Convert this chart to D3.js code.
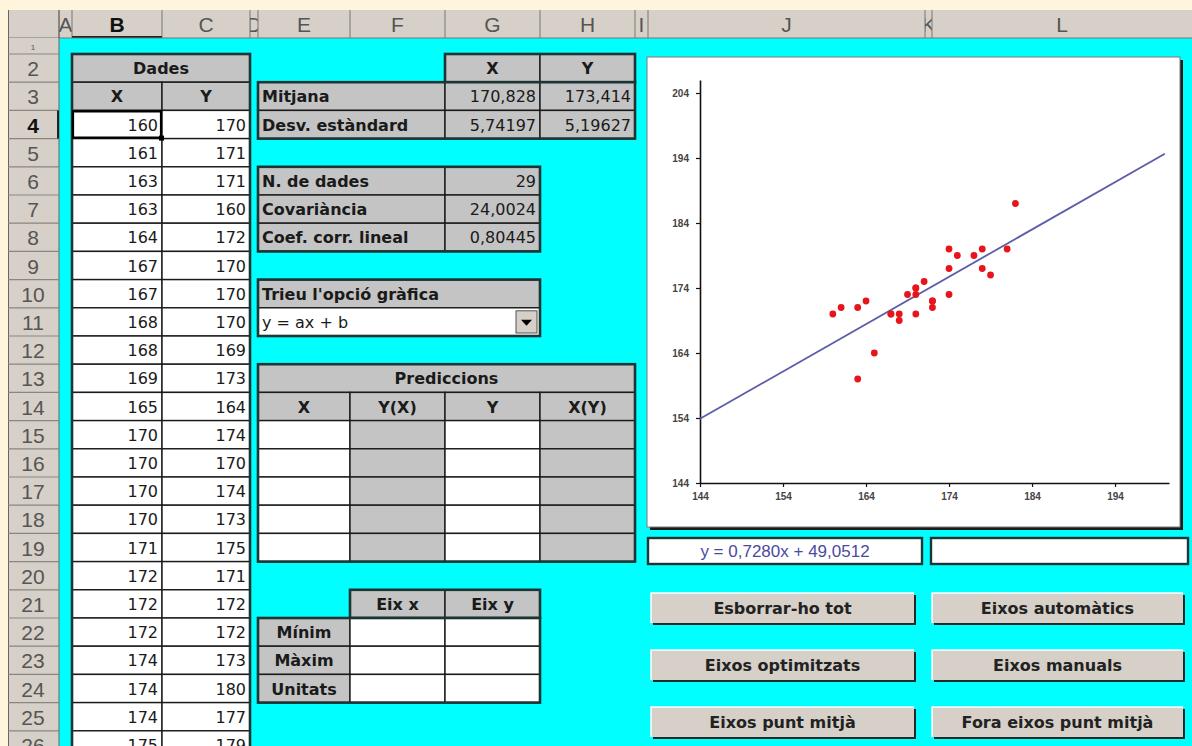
<!DOCTYPE html>
<html>
<head>
<meta charset="utf-8">
<script src="https://cdn.jsdelivr.net/npm/d3@7"></script>
<style>
body { margin: 0; background: #fff5dc; }
text { font-family: "DejaVu Sans", sans-serif; }
</style>
</head>
<body>
<div id="sheet"></div>
<script>
// data
const colLetters = ["A","B","C","D","E","F","G","H","I","J","K","L"];
const rowNumbers = d3.range(1, 27);
const dataX = [160,161,163,163,164,167,167,168,168,169,165,170,170,170,170,171,172,172,172,174,174,174,175,177,178,178,179,181,182];
const dataY = [170,171,171,160,172,170,170,170,169,173,164,174,170,174,173,175,171,172,172,173,180,177,179,179,177,180,176,180,187];
const statHead = ["X","Y"];
const statRows = ["Mitjana","Desv. estàndard"];
const statVals = [["170,828","173,414"],["5,74197","5,19627"]];
const infoLabels = ["N. de dades","Covariància","Coef. corr. lineal"];
const infoVals = ["29","24,0024","0,80445"];
const optionTitle = "Trieu l'opció gràfica";
const optionText = "y = ax + b";
const predTitle = "Prediccions";
const predHead = ["X","Y(X)","Y","X(Y)"];
const axisHead = ["Eix x","Eix y"];
const axisRows = ["Mínim","Màxim","Unitats"];
const buttonLabels = ["Esborrar-ho tot","Eixos automàtics","Eixos optimitzats","Eixos manuals","Eixos punt mitjà","Fora eixos punt mitjà"];
const slope = 0.7280, intercept = 49.0512;
const equationText = "y = 0,7280x + 49,0512";
const xTicks = [144,154,164,174,184,194];
const yTicks = [144,154,164,174,184,194,204];
const xRange = [144, 200];

// sheet grid
const colX = [59,72,162,250,258,350,445,540,635,648,925,932,1192];
const cx0 = l => colX[colLetters.indexOf(l)];
const cx1 = l => colX[colLetters.indexOf(l) + 1];
const ry = r => r === 1 ? 38 : 54 + (r - 2) * 28.2;
const lastRow = rowNumbers[rowNumbers.length - 1];

const svg = d3.select("#sheet").append("svg")
    .attr("width", 1192).attr("height", 746);

svg.append("rect").attr("width", 1192).attr("height", 746).attr("fill", "#fff5dc");
svg.append("rect").attr("x", 59).attr("y", 38).attr("width", 1192 - 59).attr("height", 746 - 38).attr("fill", "#00ffff");

// column headers
const defs = svg.append("defs");
svg.append("rect").attr("x", 8).attr("y", 10).attr("width", 1184).attr("height", 28).attr("fill", "#d6d0c8");
colLetters.forEach((l, i) => {
    const x0 = colX[i], x1 = colX[i + 1];
    defs.append("clipPath").attr("id", "cl" + l)
        .append("rect").attr("x", x0).attr("y", 10).attr("width", x1 - x0).attr("height", 28);
    svg.append("line").attr("x1", x0).attr("x2", x0).attr("y1", 10).attr("y2", 38)
        .attr("stroke", "#8a8580").attr("stroke-width", 1.2);
    svg.append("text").attr("x", (x0 + x1) / 2).attr("y", 32)
        .attr("text-anchor", "middle").attr("clip-path", "url(#cl" + l + ")")
        .style("font-family", "'Liberation Sans', sans-serif")
        .style("font-size", "21px")
        .style("font-weight", l === "B" ? "bold" : "normal")
        .attr("fill", l === "B" ? "#111" : "#555")
        .text(l);
});
svg.append("line").attr("x1", 72).attr("x2", 162).attr("y1", 37).attr("y2", 37).attr("stroke", "#222").attr("stroke-width", 2);
svg.append("line").attr("x1", 8).attr("x2", 1192).attr("y1", 38).attr("y2", 38).attr("stroke", "#777");

// row headers
svg.append("rect").attr("x", 8).attr("y", 38).attr("width", 51).attr("height", 708).attr("fill", "#d6d0c8");
svg.append("line").attr("x1", 8.5).attr("x2", 8.5).attr("y1", 10).attr("y2", 746).attr("stroke", "#666");
svg.append("line").attr("x1", 59).attr("x2", 59).attr("y1", 10).attr("y2", 746).attr("stroke", "#666");
rowNumbers.forEach(r => {
    const y0 = ry(r), y1 = ry(r + 1);
    svg.append("line").attr("x1", 8).attr("x2", 59).attr("y1", y1).attr("y2", y1)
        .attr("stroke", "#8a8580").attr("stroke-width", 1.2);
    svg.append("text").attr("x", 33).attr("y", r === 1 ? y1 - 4 : y1 - 6)
        .attr("text-anchor", "middle")
        .style("font-family", "'Liberation Sans', sans-serif")
        .style("font-size", r === 1 ? "8px" : "21px")
        .style("font-weight", r === 4 ? "bold" : "normal")
        .attr("fill", r === 4 ? "#111" : "#555")
        .text(r);
});
svg.append("line").attr("x1", 58).attr("x2", 58).attr("y1", ry(4)).attr("y2", ry(5)).attr("stroke", "#222").attr("stroke-width", 2);

const sheet = svg.append("g");

function cell(c0, c1, r0, r1, fill, txt, align, bold, color) {
    const x0 = cx0(c0), x1 = cx1(c1), y0 = ry(r0), y1 = ry(r1 + 1);
    sheet.append("rect").attr("x", x0).attr("y", y0)
        .attr("width", x1 - x0).attr("height", y1 - y0)
        .attr("fill", fill).attr("stroke", "#1a1a1a").attr("stroke-width", 1.4);
    if (txt == null) return;
    const tx = align === "left" ? x0 + 4 : align === "right" ? x1 - 4 : (x0 + x1) / 2;
    sheet.append("text").attr("x", tx).attr("y", y1 - 8)
        .attr("text-anchor", align === "left" ? "start" : align === "right" ? "end" : "middle")
        .style("font-size", "16px")
        .style("font-weight", bold ? "bold" : "normal")
        .attr("fill", color || "#1a1a1a")
        .text(txt);
}

function frame(c0, c1, r0, r1) {
    const x0 = cx0(c0), x1 = cx1(c1), y0 = ry(r0), y1 = ry(r1 + 1);
    sheet.append("rect").attr("x", x0).attr("y", y0)
        .attr("width", x1 - x0).attr("height", y1 - y0)
        .attr("fill", "none").attr("stroke", "#1d3434").attr("stroke-width", 2.6);
}

const grey = "#c4c4c4", white = "#ffffff";

// Dades (only the rows that fit in the window are drawn)
cell("B", "C", 2, 2, grey, "Dades", "middle", true);
cell("B", "B", 3, 3, grey, "X", "middle", true);
cell("C", "C", 3, 3, grey, "Y", "middle", true);
dataX.forEach((v, i) => {
    if (4 + i > lastRow) return;
    cell("B", "B", 4 + i, 4 + i, white, v, "right", false);
    cell("C", "C", 4 + i, 4 + i, white, dataY[i], "right", false);
});
frame("B", "C", 2, 3 + dataX.length);
sheet.append("rect").attr("x", cx0("B") + 1).attr("y", ry(4) + 1)
    .attr("width", cx1("B") - cx0("B") - 2).attr("height", ry(5) - ry(4) - 2)
    .attr("fill", "none").attr("stroke", "#000").attr("stroke-width", 2.2);
sheet.append("rect").attr("x", cx1("B") - 3).attr("y", ry(5) - 3).attr("width", 5).attr("height", 5).attr("fill", "#000");

// means and deviations
statHead.forEach((h, i) => cell(["G","H"][i], ["G","H"][i], 2, 2, grey, h, "middle", true));
frame("G", "H", 2, 2);
statRows.forEach((lab, j) => {
    cell("E", "F", 3 + j, 3 + j, grey, lab, "left", true);
    statVals[j].forEach((v, i) => cell(["G","H"][i], ["G","H"][i], 3 + j, 3 + j, grey, v, "right", false));
});
frame("E", "H", 3, 4);

// count, covariance, correlation
infoLabels.forEach((lab, j) => {
    cell("E", "F", 6 + j, 6 + j, grey, lab, "left", true);
    cell("G", "G", 6 + j, 6 + j, grey, infoVals[j], "right", false);
});
frame("E", "G", 6, 8);

// option box
cell("E", "G", 10, 10, grey, optionTitle, "left", true);
cell("E", "G", 11, 11, white, optionText, "left", false);
frame("E", "G", 10, 11);
{
    const bx0 = cx1("G") - 24, by0 = ry(11) + 3, by1 = ry(12) - 3;
    sheet.append("rect").attr("x", bx0).attr("y", by0).attr("width", 21).attr("height", by1 - by0)
        .attr("fill", "#d6d0c8").attr("stroke", "#555");
    sheet.append("path")
        .attr("d", `M${bx0 + 5},${by0 + 9}L${bx0 + 16},${by0 + 9}L${bx0 + 10.5},${by0 + 15}Z`)
        .attr("fill", "#000");
}

// predictions
cell("E", "H", 13, 13, grey, predTitle, "middle", true);
const predCols = ["E","F","G","H"];
predHead.forEach((h, i) => cell(predCols[i], predCols[i], 14, 14, grey, h, "middle", true));
d3.range(15, 20).forEach(r => predCols.forEach((c, i) => cell(c, c, r, r, i % 2 ? grey : white, null)));
frame("E", "H", 13, 19);

// axis limits
axisHead.forEach((h, i) => cell(["F","G"][i], ["F","G"][i], 21, 21, grey, h, "middle", true));
frame("F", "G", 21, 21);
axisRows.forEach((lab, j) => {
    cell("E", "E", 22 + j, 22 + j, grey, lab, "middle", true);
    cell("F", "F", 22 + j, 22 + j, white, null);
    cell("G", "G", 22 + j, 22 + j, white, null);
});
frame("E", "G", 22, 24);

// chart
const chart = svg.append("g");
chart.append("rect").attr("x", 650).attr("y", 60).attr("width", 533).attr("height", 470).attr("fill", "#1a1a1a");
chart.append("rect").attr("x", 647).attr("y", 57).attr("width", 533).attr("height", 470)
    .attr("fill", "#fff").attr("stroke", "#7a7a7a");

const xs = d3.scaleLinear().domain([144, 200.5]).range([700, 1169]);
const ys = d3.scaleLinear().domain([144, 206]).range([483, 80]);

const xAxis = d3.axisBottom(xs).tickValues(xTicks).tickSize(4).tickSizeOuter(0).tickPadding(6);
const yAxis = d3.axisLeft(ys).tickValues(yTicks).tickSize(4).tickSizeOuter(0).tickPadding(7);

const gx = chart.append("g").attr("transform", "translate(0,483)").call(xAxis);
const gy = chart.append("g").attr("transform", "translate(700,0)").call(yAxis);
[gx, gy].forEach(g => {
    g.select(".domain").attr("stroke", "#111").attr("stroke-width", 1.6);
    g.selectAll(".tick line").attr("stroke", "#111").attr("stroke-width", 1.2);
    g.selectAll(".tick text")
        .style("font-family", "'Liberation Sans', sans-serif")
        .style("font-size", "10px").style("font-weight", "bold").attr("fill", "#444");
});

const line = d3.line().x(d => xs(d)).y(d => ys(slope * d + intercept));
chart.append("path").datum(xRange).attr("d", line)
    .attr("fill", "none").attr("stroke", "#5c5ca8").attr("stroke-width", 1.8);

chart.selectAll(".dot").data(dataX).enter().append("circle")
    .attr("class", "dot")
    .attr("cx", d => xs(d))
    .attr("cy", (d, i) => ys(dataY[i]))
    .attr("r", 3.4)
    .attr("fill", "#e8141c");

// equation boxes
function box(x0, x1, y0, y1) {
    svg.append("rect").attr("x", x0).attr("y", y0).attr("width", x1 - x0).attr("height", y1 - y0)
        .attr("fill", "#fff").attr("stroke", "#1d3434").attr("stroke-width", 2.4);
}
box(648, 922, 538, 564);
box(931, 1188, 538, 564);
svg.append("text").attr("x", 785).attr("y", 557).attr("text-anchor", "middle")
    .style("font-family", "'Liberation Sans', sans-serif")
    .style("font-size", "17px").attr("fill", "#4a4aa0")
    .text(equationText);

// buttons
const btnX = [[651, 914], [932, 1183]];
const btnY = [593, 650, 707];
buttonLabels.forEach((lab, i) => {
    const [x0, x1] = btnX[i % 2];
    const y0 = btnY[Math.floor(i / 2)], h = 30;
    const b = svg.append("g");
    b.append("rect").attr("x", x0 + 2).attr("y", y0 + 2).attr("width", x1 - x0).attr("height", h).attr("fill", "#1e2a2a");
    b.append("rect").attr("x", x0).attr("y", y0).attr("width", x1 - x0).attr("height", h).attr("fill", "#d6d0c8");
    b.append("path").attr("d", `M${x0},${y0 + h}V${y0}H${x1}`).attr("fill", "none").attr("stroke", "#fff").attr("stroke-width", 1.5);
    b.append("text").attr("x", (x0 + x1) / 2).attr("y", y0 + 21).attr("text-anchor", "middle")
        .style("font-size", "16px").style("font-weight", "bold").attr("fill", "#222")
        .text(lab);
});
</script>
</body>
</html>
